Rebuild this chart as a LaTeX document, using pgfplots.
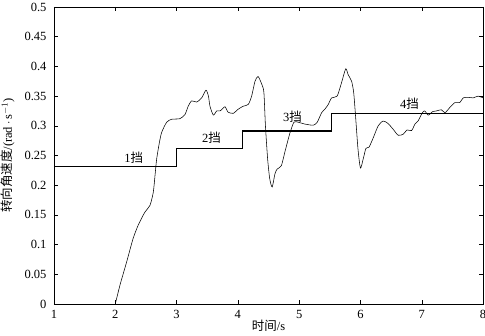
\documentclass[border=0pt]{standalone}
\usepackage{pgfplots}
\pgfplotsset{compat=1.18}
\usepackage{fontspec}
\setmainfont{Liberation Serif}
\newfontfamily\cjk{Noto Sans CJK SC}
\begin{document}
\begin{tikzpicture}[x=1pt,y=1pt]
\begin{axis}[
  name=ax,
  scale only axis,
  width=429pt, height=297pt,
  xmin=1, xmax=8, ymin=0, ymax=0.5,
  xtick={1,2,...,8},
  ytick={0,0.05,...,0.5},
  tick align=inside,
  major tick length=4pt,
  every tick/.style={black, line width=0.4pt},
  axis line style={line width=0.6pt},
  /pgf/number format/assume math mode=true,
  yticklabel style={/pgf/number format/fixed, /pgf/number format/precision=2, font=\fontsize{12.5}{12.5}\selectfont, xshift=-4pt},
  xticklabel style={font=\fontsize{12.5}{12.5}\selectfont, yshift=-3pt},
  xlabel={{\cjk 时间}/s},
  ylabel={{\cjk 转向角速度}/(rad\,$\cdot$\,s$^{-1}$)},
  label style={font=\fontsize{12.5}{12.5}\selectfont},
  xlabel style={at={(axis description cs:0.5,-0.074)}, anchor=center},
  ylabel style={at={(axis description cs:-0.1072,0.5)}, anchor=center},
  clip=false,
]
\addplot[black, line width=1.3pt, const plot] coordinates {
(1,0.232)(3,0.262)(4.08,0.291)(5.53,0.321)(8,0.321)};
\addplot[black, line width=0.55pt, smooth, tension=0.4] coordinates {
(2.0,0.0)(2.077,0.032)(2.186,0.071)(2.29,0.11)(2.375,0.133)(2.485,0.155)(2.566,0.166)
(2.62,0.188)(2.648,0.216)(2.675,0.244)(2.72,0.272)(2.757,0.289)(2.838,0.306)(2.92,0.311)
(3.055,0.312)(3.137,0.319)(3.19,0.333)(3.246,0.342)(3.33,0.340)(3.41,0.347)(3.48,0.360)
(3.52,0.350)(3.545,0.333)(3.60,0.318)(3.654,0.325)(3.71,0.325)(3.79,0.332)(3.84,0.323)
(3.925,0.321)(4.006,0.328)(4.088,0.333)(4.17,0.336)(4.225,0.350)(4.28,0.375)(4.33,0.383)
(4.39,0.370)(4.425,0.356)(4.45,0.300)(4.486,0.244)(4.52,0.211)(4.56,0.197)(4.605,0.219)
(4.64,0.227)(4.71,0.233)(4.77,0.257)(4.85,0.288)(4.915,0.306)(4.985,0.306)(5.09,0.303)
(5.23,0.301)(5.295,0.306)(5.367,0.322)(5.42,0.328)(5.475,0.336)(5.53,0.347)(5.62,0.350)
(5.69,0.372)(5.76,0.396)(5.80,0.386)(5.856,0.375)(5.89,0.356)(5.92,0.317)(5.96,0.261)
(6.0,0.229)(6.045,0.244)(6.09,0.262)(6.14,0.264)(6.21,0.280)(6.29,0.300)(6.37,0.308)
(6.45,0.304)(6.535,0.294)(6.617,0.284)(6.70,0.286)(6.76,0.293)(6.835,0.292)(6.89,0.303)
(6.94,0.308)(7.01,0.322)(7.05,0.325)(7.106,0.318)(7.18,0.324)(7.24,0.325)(7.32,0.327)
(7.38,0.322)(7.46,0.331)(7.54,0.339)(7.62,0.339)(7.677,0.347)(7.76,0.348)(7.84,0.347)
(7.92,0.350)(8.0,0.347)};
\node[font=\fontsize{12.5}{12.5}\selectfont] at (axis cs:2.30,0.247) {1{\cjk 挡}};
\node[font=\fontsize{12.5}{12.5}\selectfont] at (axis cs:3.57,0.280) {2{\cjk 挡}};
\node[font=\fontsize{12.5}{12.5}\selectfont] at (axis cs:4.89,0.315) {3{\cjk 挡}};
\node[font=\fontsize{12.5}{12.5}\selectfont] at (axis cs:6.80,0.337) {4{\cjk 挡}};
\end{axis}
\pgfresetboundingbox
\useasboundingbox ([xshift=-54pt,yshift=-31pt]ax.south west) rectangle ([xshift=2pt,yshift=7pt]ax.north east);
\end{tikzpicture}
\end{document}
